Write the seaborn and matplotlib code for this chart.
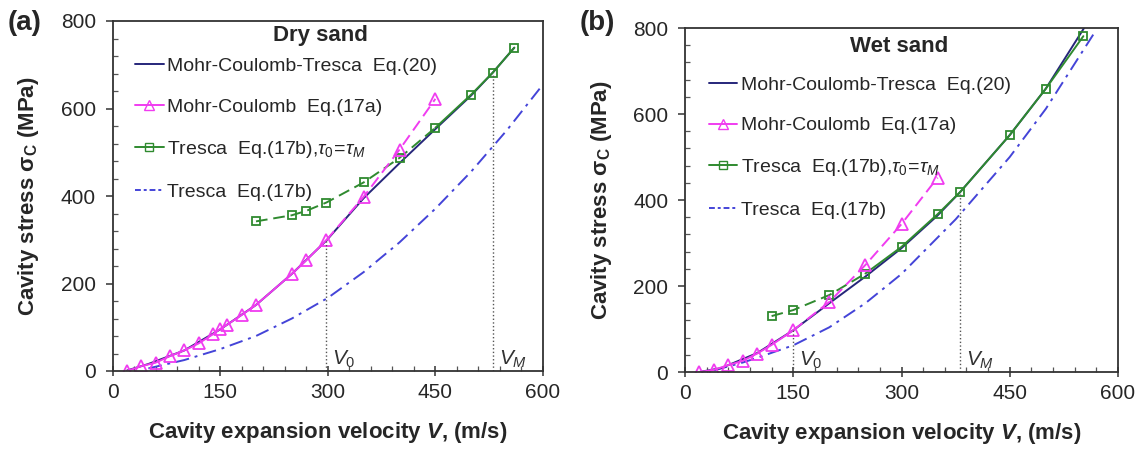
import matplotlib
matplotlib.use("Agg")
import matplotlib.pyplot as plt
import seaborn as sns
from matplotlib.lines import Line2D
from matplotlib.ticker import MultipleLocator

# -----------------------------------
# Data
# -----------------------------------

# (a) dry sand
dry_mct_v = [20, 50, 100, 150, 200, 250, 298, 350, 400, 450, 500, 530, 560]
dry_mct_s = [1, 16, 47, 95, 151, 222, 298, 395, 475, 553, 630, 682, 739]

dry_mc_v = [20, 40, 60, 80, 100, 120, 140, 150, 160, 180, 200, 250, 270, 298, 350, 400, 450]
dry_mc_s = [0, 11, 19, 34, 47, 63, 84, 96, 106, 128, 151, 222, 253, 299, 398, 506, 622]

dry_tm_v = [200, 250, 270, 298, 350, 400, 450, 500, 530, 560]
dry_tm_s = [342, 356, 366, 385, 431, 487, 556, 632, 682, 739]

dry_t_v = [50, 100, 150, 200, 250, 300, 350, 400, 450, 500, 550, 600]
dry_t_s = [6, 25, 50, 80, 120, 167, 226, 294, 371, 456, 551, 655]

dry_v0, dry_v0_s = 298, 299
dry_vm, dry_vm_s = 530, 682
dry_merge = 450

# (b) wet sand
wet_mct_v = [20, 50, 100, 150, 200, 250, 300, 350, 381, 450, 500, 553]
wet_mct_s = [0, 9, 44, 97, 160, 222, 288, 364, 418, 551, 659, 800]

wet_mc_v = [20, 40, 60, 80, 100, 120, 150, 200, 250, 300, 350]
wet_mc_s = [0, 5, 16, 26, 43, 63, 97, 163, 249, 344, 452]

wet_tm_v = [120, 150, 200, 250, 300, 350, 381, 450, 500, 552]
wet_tm_s = [130, 144, 179, 229, 291, 367, 418, 551, 659, 781]

wet_t_v = [40, 80, 100, 150, 200, 250, 300, 375, 450, 500, 570]
wet_t_s = [4, 22, 33, 62, 104, 160, 228, 355, 500, 612, 796]

wet_v0, wet_v0_s = 150, 97
wet_vm, wet_vm_s = 381, 418
wet_merge = 250

legend_labels = [
    "Mohr-Coulomb-Tresca  Eq.(20)",
    "Mohr-Coulomb  Eq.(17a)",
    r"Tresca  Eq.(17b),$\tau_0\!=\!\tau_M$",
    "Tresca  Eq.(17b)",
]

# -----------------------------------
# Style
# -----------------------------------

sns.set_style("ticks")
plt.rcParams["font.family"] = ["Liberation Sans", "DejaVu Sans"]
plt.rcParams["mathtext.fontset"] = "custom"
plt.rcParams["mathtext.rm"] = "Liberation Sans"
plt.rcParams["mathtext.it"] = "Liberation Sans:italic"
plt.rcParams["mathtext.bf"] = "Liberation Sans:bold"
plt.rcParams["mathtext.bfit"] = "Liberation Sans:bold:italic"

NAVY = "#26267a"
MAGENTA = "#f03cf0"
GREEN = "#2f8a2f"
BLUE = "#4444d8"
GRAY = "#555555"
LW = 1.4


def split(v, s, cut):
    lo = [(a, b) for a, b in zip(v, s) if a <= cut]
    hi = [(a, b) for a, b in zip(v, s) if a >= cut]
    return list(zip(*lo)), list(zip(*hi))


def draw_panel(ax, mct_v, mct_s, mc_v, mc_s, tm_v, tm_s, t_v, t_s,
               v0, v0_s, vm, vm_s, merge, title, legend_box, title_xy,
               v0_off, spacing):

    # Tresca Eq.(17b), dash-dot
    sns.lineplot(x=t_v, y=t_s, ax=ax, color=BLUE, lw=LW,
                 linestyle=(0, (7, 3, 1.5, 3)), estimator=None)

    # Mohr-Coulomb-Tresca Eq.(20)
    sns.lineplot(x=mct_v, y=mct_s, ax=ax, color=NAVY, lw=LW, estimator=None)

    # Tresca tau0 = tauM : dashed before merge, solid after
    (tv1, ts1), (tv2, ts2) = split(tm_v, tm_s, merge)
    sns.lineplot(x=list(tv1), y=list(ts1), ax=ax, color=GREEN, lw=LW,
                 linestyle=(0, (6, 3)), estimator=None)
    sns.lineplot(x=list(tv2), y=list(ts2), ax=ax, color=GREEN, lw=LW,
                 estimator=None)
    ax.plot(tm_v, tm_s, ls="none", marker="s", ms=6, mfc="none",
            mec=GREEN, mew=1.3)

    # Mohr-Coulomb : solid up to V0, dashed after
    (mv1, ms1), (mv2, ms2) = split(mc_v, mc_s, v0)
    sns.lineplot(x=list(mv1), y=list(ms1), ax=ax, color=MAGENTA, lw=LW,
                 estimator=None)
    sns.lineplot(x=list(mv2), y=list(ms2), ax=ax, color=MAGENTA, lw=LW,
                 linestyle=(0, (6, 3)), estimator=None)
    ax.plot(mc_v, mc_s, ls="none", marker="^", ms=8, mfc="none",
            mec=MAGENTA, mew=1.3)

    # V0 / VM markers
    ax.vlines([v0, vm], 0, [v0_s, vm_s], colors=GRAY, linestyles=":",
              lw=1.0)
    ax.text(v0 + v0_off, 14, r"$V_0$", fontsize=15, color="#333333")
    ax.text(vm + v0_off, 14, r"$V_M$", fontsize=15, color="#333333")

    ax.set_xlim(0, 600)
    ax.set_ylim(0, 800)
    ax.xaxis.set_major_locator(MultipleLocator(150))
    ax.xaxis.set_minor_locator(MultipleLocator(30))
    ax.yaxis.set_major_locator(MultipleLocator(200))
    ax.yaxis.set_minor_locator(MultipleLocator(40))
    ax.tick_params(axis="x", which="major", direction="inout", length=7,
                   width=1.1, labelsize=15, pad=5, color="#333333")
    ax.tick_params(axis="x", which="minor", direction="in", length=3.5,
                   width=0.9, color="#555555")
    ax.tick_params(axis="y", which="major", direction="out", length=5,
                   width=1.1, labelsize=15, pad=7, color="#333333")
    ax.tick_params(axis="y", which="minor", direction="in", length=3.5,
                   width=0.9, color="#555555")
    for sp in ax.spines.values():
        sp.set_visible(True)
        sp.set_linewidth(1.3)
        sp.set_color("#333333")

    ax.set_xlabel(r"Cavity expansion velocity $\bfit{V}$, (m/s)",
                  fontsize=16, fontweight="bold", labelpad=13)
    ax.set_ylabel(r"Cavity stress σ$_\mathbf{C}$ (MPa)",
                  fontsize=16, fontweight="bold", labelpad=14)

    handles = [
        Line2D([], [], color=NAVY, lw=LW),
        Line2D([], [], color=MAGENTA, lw=LW, marker="^", ms=7,
               mfc="none", mec=MAGENTA),
        Line2D([], [], color=GREEN, lw=LW, marker="s", ms=5.5,
               mfc="none", mec=GREEN),
        Line2D([], [], color=BLUE, lw=LW, linestyle=(0, (3, 1.5, 1.5, 1.5))),
    ]
    ax.legend(handles, legend_labels, loc="upper left",
              bbox_to_anchor=legend_box, frameon=False, fontsize=14,
              handlelength=1.45, handletextpad=0.2, labelspacing=spacing,
              borderpad=0, borderaxespad=0)

    ax.text(title_xy[0], title_xy[1], title, transform=ax.transAxes,
            ha="center", va="center", fontsize=16, fontweight="bold")


fig = plt.figure(figsize=(11.43, 4.49), dpi=100)

ax_a = fig.add_axes([112.5 / 1143, 1 - 371 / 449, 430.5 / 1143, 350 / 449])
ax_b = fig.add_axes([685 / 1143, 1 - 372 / 449, 433 / 1143, 344 / 449])

draw_panel(ax_a, dry_mct_v, dry_mct_s, dry_mc_v, dry_mc_s, dry_tm_v,
           dry_tm_s, dry_t_v, dry_t_s, dry_v0, dry_v0_s, dry_vm, dry_vm_s,
           dry_merge, "Dry sand", (0.053, 0.896), (0.483, 0.96), 8, 1.2)
draw_panel(ax_b, wet_mct_v, wet_mct_s, wet_mc_v, wet_mc_s, wet_tm_v,
           wet_tm_s, wet_t_v, wet_t_s, wet_v0, wet_v0_s, wet_vm, wet_vm_s,
           wet_merge, "Wet sand", (0.055, 0.859), (0.495, 0.946), 8, 1.17)

fig.text(8 / 1143, 1 - 23 / 449, "(a)", fontsize=20, fontweight="bold",
         va="center", ha="left")
fig.text(580 / 1143, 1 - 23 / 449, "(b)", fontsize=20, fontweight="bold",
         va="center", ha="left")

fig.savefig("out.png", dpi=100)
